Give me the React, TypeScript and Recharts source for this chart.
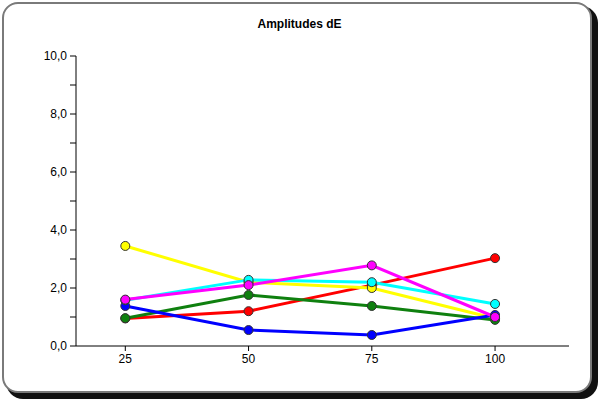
import { LineChart, Line, XAxis, YAxis } from 'recharts';

const positions = [25, 50, 75, 100];
const yTicks = [0, 1, 2, 3, 4, 5, 6, 7, 8, 9, 10];

const red = [0.95, 1.2, 2.1, 3.03];
const yellow = [3.45, 2.2, 2.0, 0.95];
const green = [0.96, 1.76, 1.38, 0.9];
const blue = [1.38, 0.55, 0.38, 1.07];
const cyan = [1.58, 2.28, 2.2, 1.45];
const magenta = [1.6, 2.1, 2.78, 1.0];

const series = [
  { key: 'red', values: red, color: '#ff0000' },
  { key: 'yellow', values: yellow, color: '#ffff00' },
  { key: 'green', values: green, color: '#0f800f' },
  { key: 'blue', values: blue, color: '#0000ff' },
  { key: 'cyan', values: cyan, color: '#00ffff' },
  { key: 'magenta', values: magenta, color: '#ff00ff' },
];

const data = positions.map((p, i) => {
  const row: Record<string, number> = { pos: p };
  series.forEach(s => { row[s.key] = s.values[i]; });
  return row;
});

const font = '"Liberation Sans", Arial, sans-serif';

export default function App() {
  return (
    <div style={{ position: 'relative', width: 599, height: 400, background: '#fff', fontFamily: font }}>
      <style>{'body{margin:0}'}</style>
      <div style={{
        position: 'absolute', left: 2, top: 2, width: 586, height: 387,
        border: '2px solid #7a7a7a', borderRadius: 16, background: '#fff',
        boxShadow: '5px 5px 0 1px #111',
      }} />
      <div style={{
        position: 'absolute', left: 0, top: 17, width: 599, textAlign: 'center',
        fontFamily: '"Liberation Sans Narrow", "Liberation Sans", Arial, sans-serif',
        fontWeight: 'bold', fontSize: 12, color: '#000',
      }}>Amplitudes dE</div>
      <div style={{ position: 'absolute', left: 0, top: 0 }}>
        <LineChart width={599} height={400} data={data} margin={{ top: 56, right: 30, left: 0, bottom: 0 }}>
          <XAxis
            dataKey="pos"
            type="number"
            domain={[15, 115]}
            ticks={positions}
            height={54}
            stroke="#000"
            tickSize={5}
            tickMargin={3}
            tick={{ fill: '#000', fontSize: 12, fontFamily: font }}
          />
          <YAxis
            type="number"
            domain={[0, 10]}
            ticks={yTicks}
            width={76}
            stroke="#000"
            tickSize={6}
            tickMargin={3}
            interval={0}
            tickFormatter={(v: number) => (v % 2 === 0 ? v.toFixed(1).replace('.', ',') : '')}
            tick={{ fill: '#000', fontSize: 12, fontFamily: font }}
          />
          {series.map(s => (
            <Line
              key={s.key}
              dataKey={s.key}
              stroke={s.color}
              strokeWidth={3}
              dot={{ r: 4.5, fill: s.color, stroke: '#333', strokeWidth: 1 }}
              isAnimationActive={false}
            />
          ))}
        </LineChart>
      </div>
    </div>
  );
}
